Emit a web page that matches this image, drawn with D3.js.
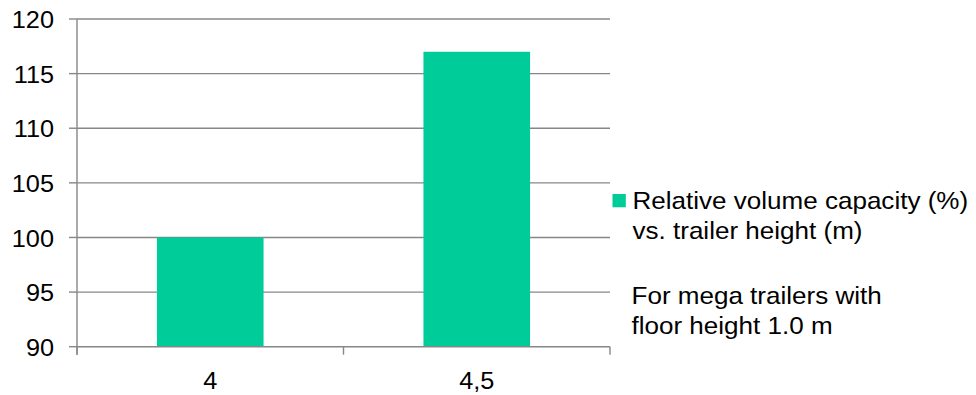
<!DOCTYPE html>
<html>
<head>
<meta charset="utf-8">
<script src="https://cdn.jsdelivr.net/npm/d3@7"></script>
<style>
  html, body { margin: 0; padding: 0; background: #ffffff; }
  svg { display: block; }
  text { font-family: "Liberation Sans", Arial, sans-serif; fill: #000000; }
</style>
</head>
<body>
<svg id="chart" width="976" height="395"></svg>
<script>
// Trailer height (m) and relative volume capacity (%)
const categories = ["4", "4,5"];
const capacity = [100, 117];
const yTicks = [90, 95, 100, 105, 110, 115, 120];
const legendLines = ["Relative volume capacity (%)", "vs. trailer height (m)"];
const noteLines = ["For mega trailers with", "floor height 1.0 m"];

const barColor = "#00cc99";
const axisColor = "#878787";

const svg = d3.select("#chart");

const plotLeft = 77, plotRight = 610, plotTop = 19, plotBottom = 346.7;

const x = d3.scaleBand().domain(categories).range([plotLeft, plotRight]).padding(0);
const y = d3.scaleLinear().domain([90, 120]).range([plotBottom, plotTop]);

// horizontal gridlines
svg.append("g").selectAll("line").data(yTicks.slice(1)).join("line")
  .attr("x1", plotLeft).attr("x2", plotRight)
  .attr("y1", d => y(d)).attr("y2", d => y(d))
  .attr("stroke", axisColor).attr("stroke-width", 1.4);

// bars: 40% of each category band, centred
const barW = x.bandwidth() * 0.4;
svg.append("g").selectAll("rect").data(categories).join("rect")
  .attr("x", d => x(d) + (x.bandwidth() - barW) / 2)
  .attr("width", barW)
  .attr("y", (d, i) => y(capacity[i]))
  .attr("height", (d, i) => y(90) - y(capacity[i]))
  .attr("fill", barColor);

// y axis line and ticks
svg.append("line")
  .attr("x1", plotLeft).attr("x2", plotLeft).attr("y1", plotTop).attr("y2", plotBottom + 8)
  .attr("stroke", axisColor).attr("stroke-width", 1.4);
svg.append("g").selectAll("line").data(yTicks).join("line")
  .attr("x1", plotLeft - 8).attr("x2", plotLeft)
  .attr("y1", d => y(d)).attr("y2", d => y(d))
  .attr("stroke", axisColor).attr("stroke-width", 1.4);

// x axis line and category boundary ticks
svg.append("line")
  .attr("x1", plotLeft).attr("x2", plotRight).attr("y1", y(90)).attr("y2", y(90))
  .attr("stroke", axisColor).attr("stroke-width", 1.4);
const bounds = categories.map(c => x(c)).concat([x(categories[categories.length - 1]) + x.bandwidth()]);
svg.append("g").selectAll("line").data(bounds).join("line")
  .attr("x1", d => d).attr("x2", d => d)
  .attr("y1", y(90)).attr("y2", y(90) + 8)
  .attr("stroke", axisColor).attr("stroke-width", 1.4);

// y tick labels
svg.append("g").selectAll("text").data(yTicks).join("text")
  .attr("transform", d => `translate(54,${y(d) + 9.2}) scale(1.1,1)`)
  .attr("text-anchor", "end")
  .style("font-size", "23px")
  .text(d => d);

// x category labels
svg.append("g").selectAll("text").data(categories).join("text")
  .attr("transform", d => `translate(${x(d) + x.bandwidth() / 2},388.5) scale(1.1,1)`)
  .attr("text-anchor", "middle")
  .style("font-size", "23px")
  .text(d => d);

// legend
svg.append("rect")
  .attr("x", 612.5).attr("y", 194).attr("width", 13.3).attr("height", 13.3)
  .attr("fill", barColor);
svg.append("g").selectAll("text").data(legendLines).join("text")
  .attr("transform", (d, i) => `translate(632.5,${208.5 + i * 30}) scale(1.085,1)`)
  .style("font-size", "24px")
  .text(d => d);
svg.append("g").selectAll("text").data(noteLines).join("text")
  .attr("transform", (d, i) => `translate(631.5,${304 + i * 30}) scale(1.085,1)`)
  .style("font-size", "24px")
  .text(d => d);
</script>
</body>
</html>
